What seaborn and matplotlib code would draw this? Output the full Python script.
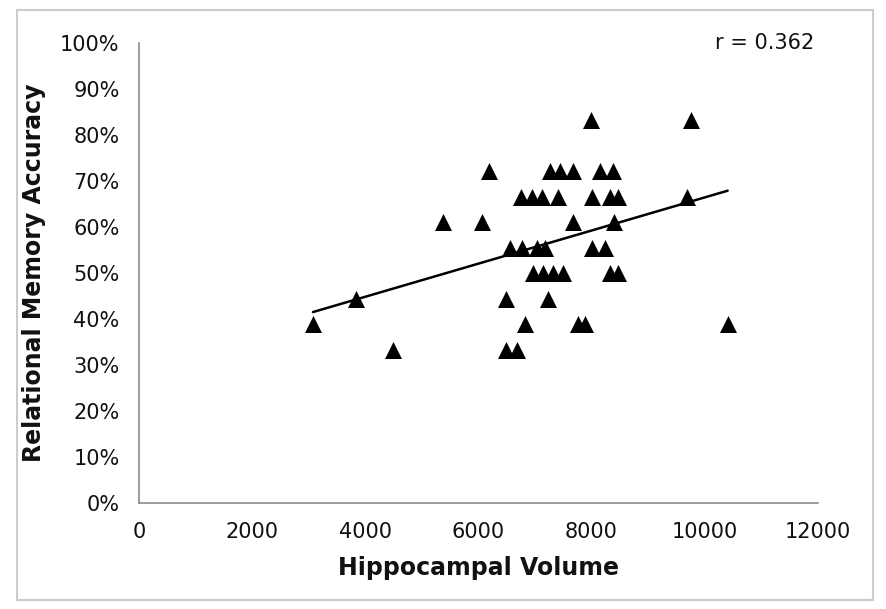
import numpy as np
import pandas as pd
import matplotlib.pyplot as plt
import seaborn as sns
from matplotlib.patches import Rectangle
from matplotlib.ticker import PercentFormatter

# ===============================
# DATA
# ===============================
volume = [
    7986, 9753,
    6184, 7261, 7438, 7668, 8145, 8375,
    6749, 6943, 7120, 7403, 8004, 8322, 8463, 9682,
    5371, 6060, 7668, 8392,
    6555, 6767, 7032, 7173, 8004, 8233,
    6961, 7138, 7314, 7491, 8322, 8463,
    3834, 6484, 7226,
    3074, 6820, 7756, 7880, 10406,
    4488, 6484, 6678,
]
accuracy = [
    15, 15,
    13, 13, 13, 13, 13, 13,
    12, 12, 12, 12, 12, 12, 12, 12,
    11, 11, 11, 11,
    10, 10, 10, 10, 10, 10,
    9, 9, 9, 9, 9, 9,
    8, 8, 8,
    7, 7, 7, 7, 7,
    6, 6, 6,
]
n_items = 18

df = pd.DataFrame({"volume": volume, "accuracy": np.array(accuracy) / n_items})

# ===============================
# PLOT
# ===============================
sns.set_style("white")
plt.rcParams["font.family"] = ["DejaVu Sans"]

fig = plt.figure(figsize=(8.86, 6.09), dpi=100)
ax = fig.add_axes([0.157, 0.174, 0.766, 0.755])

sns.regplot(
    data=df, x="volume", y="accuracy", ax=ax, ci=None,
    marker="^", color="black",
    scatter_kws={"s": 150, "linewidths": 0, "alpha": 1},
    line_kws={"linewidth": 1.8},
)

ax.set_xlim(0, 12000)
ax.set_ylim(0, 1.0)
ax.set_xticks(np.arange(0, 12001, 2000))
ax.set_yticks(np.arange(0, 1.01, 0.1))
ax.yaxis.set_major_formatter(PercentFormatter(1.0, decimals=0))

for side in ["top", "right"]:
    ax.spines[side].set_visible(False)
for side in ["left", "bottom"]:
    ax.spines[side].set_color("#8c8c8c")
    ax.spines[side].set_linewidth(1.2)
ax.tick_params(axis="both", direction="out", length=6, width=1.2,
               color="#8c8c8c", labelsize=15, labelcolor="#111111", pad=8)

ax.set_xlabel("Hippocampal Volume", fontsize=17, fontweight="bold",
              labelpad=10, color="#111111")
ax.set_ylabel("Relational Memory Accuracy", fontsize=17, fontweight="bold",
              labelpad=10, color="#111111")

ax.text(0.995, 1.0, "r = 0.362", transform=ax.transAxes,
        ha="right", va="center", fontsize=15, color="#111111")

# chart area border
fig.patches.append(Rectangle((0.019, 0.015), 0.966, 0.968, transform=fig.transFigure,
                             fill=False, edgecolor="#cccccc", linewidth=1.5))

plt.savefig("out.png", dpi=100)
plt.close()
